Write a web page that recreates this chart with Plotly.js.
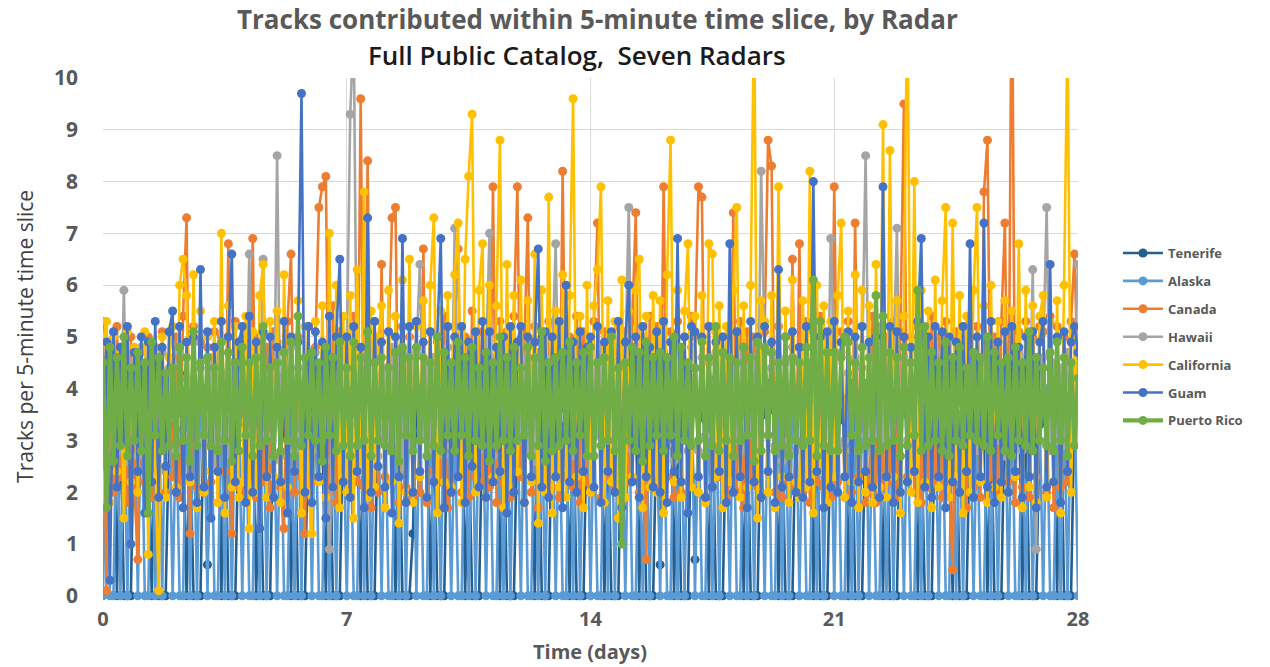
<!DOCTYPE html>
<html>
<head>
<meta charset="utf-8">
<script src="https://cdn.plot.ly/plotly-3.0.1.min.js"></script>
<style>
html,body{margin:0;padding:0;background:#fff;}
#chart{width:1270px;height:667px;}
</style>
</head>
<body>
<div id="chart"></div>
<script>
// Series names (legend order) and colours
const seriesNames = ["Tenerife","Alaska","Canada","Hawaii","California","Guam","Puerto Rico"];
const seriesColors = ["#255E91","#5B9BD5","#ED7D31","#A5A5A5","#FFC000","#4472C4","#70AD47"];
// tick labels
const xTicks = [0,7,14,21,28];
const yTicks = [0,1,2,3,4,5,6,7,8,9,10];
// Sample spacing of the values below: one value every 0.1 day, from day 0 to day 28
const startDay = 0;
const stepDay = 0.1;

// Values read (estimated) from the chart, one row per day
const tenerife = [
3.6,3.9,3.1,4.2,0,3.5,0,0,0,3.8,
3.4,4.0,3.7,2.9,0,4.1,0,0,0,3.3,
3.9,3.2,4.3,3.6,0,3.0,0,0,0,4.0,
0.6,3.7,3.4,4.1,0,3.8,0,0,0,3.5,
3.8,3.3,4.0,3.6,0,3.2,0,0,0,3.9,
3.5,4.2,3.1,3.8,0,3.6,0,0,0,3.4,
3.7,3.4,4.1,3.0,0,3.9,0,0,0,3.6,
4.0,3.5,3.8,3.3,0,4.2,0,0,0,3.7,
3.3,3.9,3.6,4.1,0,3.4,0,0,0,1.2,
3.8,3.1,4.0,3.7,0,3.5,0,0,0,3.9,
3.6,4.1,3.4,3.9,0,3.2,0,0,0,3.5,
3.9,3.3,3.8,4.2,0,3.6,0,0,0,3.4,
3.5,4.0,3.2,3.7,0,4.1,0,0,0,3.8,
3.7,3.6,4.1,3.3,0,3.9,0,0,0,3.6,
3.4,3.8,3.5,4.0,0,3.3,0,0,0,4.1,
3.9,3.2,3.7,3.6,0,4.0,0,0,0,3.5,
0.6,3.9,3.4,4.1,0,3.6,0,0,0,3.8,
0.7,3.5,3.9,3.4,0,3.8,0,0,0,3.6,
3.8,3.4,4.0,3.2,0,3.7,0,0,0,3.9,
3.5,4.1,3.6,3.9,0,3.3,0,0,0,3.7,
3.7,3.3,3.9,4.2,0,3.5,0,0,0,3.4,
4.0,3.6,3.4,3.8,0,4.1,0,0,0,3.6,
3.3,3.9,4.2,3.5,0,3.7,0,0,0,3.8,
3.6,3.5,3.8,4.0,0,3.2,0,0,0,4.0,
3.9,4.0,3.3,3.7,0,3.8,0,0,0,3.5,
3.5,3.7,4.1,3.4,0,3.6,0,0,0,3.9,
3.8,3.2,3.6,4.0,0,3.9,0,0,0,3.3,
3.4,3.9,3.7,3.5,0,4.2,0,0,0,3.7,
3.6];

const alaska = [
0,3.8,0,0,4.1,0,3.5,0,3.9,4.2,
0,4.0,0,0,3.6,0,3.9,0,4.1,3.7,
0,3.5,0,0,4.2,0,3.7,0,3.8,4.0,
0,4.1,0,0,3.8,0,3.4,0,4.0,3.6,
0,3.7,0,0,3.9,0,4.2,0,3.6,3.9,
0,3.9,0,0,3.5,0,4.0,0,3.7,4.1,
0,4.2,0,0,3.7,0,3.6,0,4.1,3.5,
0,3.6,0,0,4.0,0,3.9,0,3.5,3.8,
0,3.8,0,0,3.4,0,4.1,0,3.9,4.2,
0,4.0,0,0,3.9,0,3.5,0,4.2,3.6,
0,3.4,0,0,4.1,0,3.8,0,3.7,4.0,
0,3.9,0,0,3.6,0,4.0,0,3.8,3.7,
0,4.1,0,0,3.8,0,3.6,0,4.0,3.9,
0,3.7,0,0,4.2,0,3.9,0,3.5,4.1,
0,3.5,0,0,3.9,0,4.1,0,3.8,3.6,
0,4.0,0,0,3.7,0,3.5,0,4.1,3.9,
0,3.8,0,0,4.0,0,3.7,0,3.6,4.2,
0,3.6,0,0,3.8,0,4.2,0,3.9,3.5,
0,4.2,0,0,3.5,0,3.8,0,4.0,3.7,
0,3.9,0,0,4.1,0,3.6,0,3.7,4.0,
0,3.7,0,0,3.9,0,4.0,0,4.2,3.8,
0,4.0,0,0,3.6,0,3.9,0,3.5,4.1,
0,3.5,0,0,4.2,0,3.7,0,3.9,3.6,
0,3.8,0,0,3.7,0,4.1,0,3.6,3.9,
0,4.1,0,0,3.9,0,3.5,0,4.0,3.7,
0,3.6,0,0,4.0,0,3.8,0,4.1,4.2,
0,3.9,0,0,3.8,0,4.0,0,3.7,3.5,
0,4.0,0,0,3.5,0,3.9,0,3.8,4.0,
0];

const canada = [
5.3,0.1,4.9,2.0,5.2,2.3,4.8,1.8,5.0,2.1,
0.7,4.7,2.2,5.0,1.9,4.8,2.4,5.1,2.0,4.6,
2.3,5.0,1.9,5.4,7.3,1.2,5.2,2.1,4.9,2.0,
4.8,2.2,5.1,1.8,5.0,2.4,6.8,1.2,5.3,2.1,
2.0,5.2,2.3,6.9,1.9,5.0,2.2,4.8,1.7,5.1,
4.9,2.1,1.3,5.3,6.6,2.0,5.0,2.3,1.2,5.2,
2.2,4.8,7.5,7.9,8.1,2.0,5.6,1.8,5.1,2.3,
5.0,1.9,5.4,2.2,9.6,2.1,8.4,1.7,5.3,2.0,
6.4,2.3,5.1,7.3,7.5,1.8,5.2,2.1,5.0,1.9,
5.3,2.0,6.7,1.8,5.1,2.4,4.9,2.2,5.4,1.7,
2.1,5.2,6.7,2.0,5.0,1.9,5.5,2.3,5.1,2.2,
5.0,2.1,7.9,1.8,5.3,2.2,5.1,1.9,5.4,7.9,
2.3,5.1,7.3,2.0,5.2,1.7,5.0,2.2,5.3,2.1,
5.2,1.9,8.2,2.3,5.0,2.1,5.4,1.8,5.1,2.2,
2.0,5.3,7.2,1.9,5.1,2.3,5.0,2.1,5.2,1.8,
5.1,2.2,5.3,7.4,2.0,5.0,0.7,5.4,2.1,5.2,
2.1,7.9,2.3,5.1,1.9,5.3,2.0,5.0,2.2,5.4,
5.0,7.9,7.7,1.8,5.2,2.1,5.1,2.3,5.0,1.9,
2.2,7.4,2.0,5.3,1.7,5.1,2.3,5.0,2.1,5.2,
5.1,8.8,8.3,2.0,5.2,1.9,5.0,2.2,6.5,2.1,
6.8,2.0,5.3,1.8,5.1,2.2,5.4,2.1,5.0,1.9,
7.9,2.2,5.1,1.9,5.3,2.0,7.2,2.3,5.2,1.8,
2.0,5.4,1.8,5.2,2.1,5.0,2.2,5.3,1.9,5.1,
9.5,2.3,5.0,2.0,5.2,1.8,5.1,2.1,5.4,2.2,
5.0,1.9,5.3,2.2,0.5,5.1,2.0,5.2,1.7,5.0,
2.1,5.2,1.9,7.8,8.8,2.3,5.0,2.0,5.3,7.2,
2.2,13.0,1.8,5.1,2.1,5.3,1.9,5.0,2.3,5.2,
5.1,2.0,5.4,1.7,5.2,2.1,5.0,2.2,5.3,6.6,
4.0];

const hawaii = [
4.2,2.5,4.6,3.0,4.4,2.8,5.9,2.6,4.5,3.1,
2.7,4.8,2.9,4.3,3.2,4.6,2.4,4.7,3.0,4.4,
4.5,2.8,4.7,3.1,4.2,2.6,4.9,2.9,4.4,3.0,
2.9,4.6,2.5,4.8,3.0,4.3,2.7,4.5,3.2,4.7,
4.4,3.0,6.6,2.8,4.6,2.9,6.5,3.1,4.3,2.6,
8.5,2.7,4.5,3.0,4.8,2.8,4.4,3.1,4.6,2.5,
2.8,4.7,3.0,4.5,2.6,0.9,4.6,2.9,4.4,3.2,
4.6,9.3,11.0,3.0,4.7,2.8,4.5,3.1,4.3,2.7,
3.1,4.4,2.8,4.8,3.0,4.6,2.5,4.7,2.9,4.5,
4.7,6.4,3.1,4.4,2.8,4.6,3.0,4.3,2.7,4.8,
2.9,7.1,3.0,4.7,2.6,4.5,3.2,4.4,2.8,4.6,
4.5,7.0,2.7,4.6,3.1,4.4,2.9,4.8,3.0,4.3,
3.0,4.6,2.8,4.5,2.6,4.7,3.1,4.4,2.9,4.6,
6.8,2.9,4.7,3.0,4.3,2.7,4.5,3.2,4.6,2.8,
2.7,4.5,3.1,4.8,2.9,4.4,3.0,4.6,2.6,4.7,
4.6,7.5,2.8,4.3,3.0,4.5,2.7,4.7,3.1,4.4,
3.0,4.7,2.9,4.4,2.6,4.6,3.2,4.5,2.8,4.8,
4.4,2.8,4.6,3.1,4.5,2.9,4.7,3.0,4.3,2.7,
2.9,4.5,3.0,4.7,2.8,4.4,3.1,4.6,2.7,8.2,
4.7,3.1,4.4,2.9,4.6,2.6,4.5,3.0,4.8,2.8,
3.0,4.6,2.7,4.5,3.2,4.4,2.9,4.7,3.1,6.9,
4.5,2.9,4.7,3.0,4.3,2.8,4.6,3.1,4.4,8.5,
2.8,4.4,3.1,4.6,2.9,4.8,3.0,4.5,7.1,2.7,
4.6,3.0,4.5,2.8,4.7,3.1,4.4,2.9,4.6,3.0,
3.1,4.7,2.9,4.4,3.0,4.5,2.6,4.8,2.8,4.6,
4.4,2.8,4.6,3.1,4.5,2.9,4.7,3.0,4.3,2.7,
2.9,4.5,3.0,4.7,2.8,4.6,3.1,6.3,0.9,4.4,
4.6,7.5,2.8,4.5,3.0,4.4,2.9,4.7,3.1,4.5,
6.4];

const california = [
4.9,5.3,1.8,5.0,2.4,4.7,1.5,5.1,2.2,4.8,
2.0,5.0,5.1,0.8,4.9,2.3,0.1,5.0,1.9,4.6,
5.2,2.1,6.0,6.5,5.8,2.2,6.2,1.7,5.5,2.0,
5.0,2.4,5.3,1.8,7.0,1.6,5.6,2.1,5.2,1.9,
2.2,5.4,1.3,5.1,2.0,5.8,6.4,1.9,5.3,2.3,
5.5,1.8,6.2,2.1,5.0,2.4,5.7,1.6,5.2,2.0,
1.2,5.3,2.2,5.6,1.9,7.0,2.1,6.0,1.7,5.4,
2.0,5.8,1.5,6.3,2.4,7.8,1.9,5.5,2.1,5.0,
5.6,1.7,5.9,2.2,5.4,1.4,6.1,2.0,6.5,1.8,
5.2,2.3,5.7,1.9,6.0,7.3,1.6,5.5,2.2,5.8,
2.1,6.2,7.2,1.8,6.5,8.1,9.3,2.0,5.9,6.8,
1.9,6.0,2.3,5.6,8.8,1.7,6.4,2.1,5.8,2.4,
6.1,1.8,5.7,2.2,6.6,1.4,5.9,2.0,7.7,1.6,
5.5,2.1,6.2,1.9,5.8,9.6,2.3,5.4,1.7,6.0,
2.0,5.6,6.3,7.9,1.8,5.7,2.2,5.3,1.5,6.1,
1.9,5.5,2.3,5.9,6.5,1.7,5.4,2.1,5.8,2.0,
5.7,1.6,6.2,8.8,2.2,5.9,1.9,5.5,6.8,2.1,
5.4,2.0,5.8,1.8,6.8,6.6,2.3,5.6,1.7,5.2,
2.2,5.9,7.5,1.9,5.6,2.1,6.0,11.5,1.5,5.7,
5.3,2.0,5.8,1.7,7.9,2.3,5.5,1.8,6.1,2.2,
1.9,5.7,2.1,8.2,1.6,6.0,2.4,5.6,1.8,5.3,
2.3,5.8,7.2,1.9,5.5,2.2,6.2,1.7,5.9,2.0,
5.6,1.8,6.4,2.1,9.1,1.9,8.6,2.3,5.7,1.6,
5.4,12.0,2.0,8.0,1.8,5.9,2.2,5.5,1.7,6.1,
2.1,5.7,7.5,1.9,7.2,2.3,5.8,1.6,5.4,2.0,
5.9,7.5,2.2,5.6,1.8,6.0,2.1,5.3,1.9,5.7,
2.0,5.5,2.3,6.8,1.7,5.9,2.1,5.6,1.8,5.4,
5.8,1.9,5.3,2.2,5.7,1.6,6.0,11.0,2.0,5.2,
3.0];

const guam = [
3.2,4.9,0.3,5.1,2.1,4.8,3.0,5.2,1.0,4.7,
2.4,5.0,1.6,4.9,2.2,5.3,1.9,4.8,2.5,5.1,
5.5,2.0,5.2,1.7,4.9,2.3,5.0,1.8,6.3,2.1,
5.1,1.5,4.8,2.4,5.3,1.9,5.0,6.6,2.2,4.9,
5.2,1.8,5.4,2.0,4.9,1.3,5.1,2.3,5.0,1.9,
4.8,2.2,5.3,1.6,5.0,2.4,4.9,9.7,2.0,5.2,
1.8,5.1,2.3,4.9,1.5,5.4,2.1,5.0,6.5,2.2,
5.0,1.9,5.2,2.4,4.8,1.7,7.3,2.0,5.3,2.5,
4.9,2.1,5.1,1.6,5.0,2.3,6.9,1.8,5.2,2.0,
5.3,2.4,4.9,1.9,5.1,2.2,5.0,6.9,1.7,5.2,
2.0,5.0,2.3,5.2,1.8,4.9,2.5,5.1,2.1,5.3,
1.9,5.1,2.2,4.8,2.4,5.0,1.6,5.2,2.0,4.9,
5.2,1.8,5.0,2.3,4.9,6.7,2.1,5.1,1.9,5.0,
2.3,5.3,1.7,6.0,2.2,4.9,2.0,5.1,2.4,4.8,
5.0,2.1,5.2,1.8,4.9,2.4,5.1,2.0,5.3,1.7,
4.9,6.0,2.2,5.0,1.9,5.2,2.3,4.8,2.1,5.1,
2.0,5.3,1.8,4.9,2.4,6.9,2.2,5.0,1.6,5.2,
5.1,2.3,5.0,1.9,5.2,2.1,4.9,2.4,5.0,1.8,
6.8,2.0,5.1,2.3,4.8,1.7,5.3,2.2,5.0,1.9,
5.2,2.4,4.9,1.8,6.3,2.1,5.0,2.3,5.1,2.0,
4.8,1.9,5.2,2.2,8.0,2.4,5.0,1.7,5.1,2.1,
5.3,2.0,4.9,2.3,5.1,1.8,5.0,2.2,5.2,2.4,
4.9,2.1,5.0,1.9,7.9,2.3,5.2,1.8,5.1,2.0,
5.0,2.2,4.8,2.4,5.3,6.9,2.1,5.0,1.9,5.2,
2.3,5.1,1.7,5.0,2.2,4.9,2.0,5.2,2.4,6.8,
1.9,5.0,2.3,7.2,2.1,5.3,1.8,4.9,2.2,5.1,
2.0,5.2,2.4,4.8,1.9,5.0,2.3,5.1,1.7,4.9,
5.3,2.1,6.4,2.2,5.0,1.8,5.1,2.4,4.9,5.2,
4.7];

const puertoRico = [
4.5,1.7,4.8,2.6,4.6,2.9,5.0,2.7,4.4,3.0,
4.7,2.8,4.5,1.6,4.9,3.1,4.6,2.8,4.3,2.9,
4.4,2.7,4.8,3.0,4.6,2.6,5.1,2.9,4.5,3.1,
4.6,2.9,4.4,2.8,4.9,3.0,4.7,2.6,4.5,2.8,
4.8,3.1,4.5,2.7,4.6,2.9,5.2,3.0,4.4,2.7,
4.5,2.8,4.7,3.0,4.9,2.7,5.4,2.9,4.6,3.1,
4.7,3.0,4.5,2.6,4.8,3.1,4.6,2.8,4.9,2.9,
4.4,2.7,4.9,2.9,4.6,3.0,5.1,2.7,4.5,3.0,
4.6,2.9,4.4,2.8,4.7,2.6,4.8,3.1,4.6,2.8,
4.8,3.0,4.6,2.7,4.5,2.9,5.0,2.8,4.7,3.1,
4.5,2.8,4.9,3.1,4.6,2.7,4.8,3.0,4.4,2.9,
4.7,2.6,4.5,2.9,5.0,3.0,4.6,2.8,4.8,3.0,
4.4,3.1,4.8,2.7,4.6,2.9,5.1,2.6,4.5,2.8,
4.6,2.9,4.7,3.0,4.9,2.8,4.5,3.1,4.7,2.7,
4.8,2.7,4.5,2.9,4.6,3.0,5.0,2.8,4.4,1.0,
4.5,3.0,4.8,2.8,4.7,2.6,4.9,2.9,4.6,3.1,
4.7,2.8,4.6,3.1,5.0,2.7,4.8,3.0,4.5,2.9,
4.4,3.0,4.9,2.7,4.6,2.9,5.2,2.8,4.7,3.0,
4.6,2.7,4.5,3.0,4.8,3.1,4.6,2.6,4.9,2.8,
4.8,3.1,4.7,2.8,4.5,2.9,5.0,2.7,4.6,3.0,
4.5,2.9,4.8,3.0,6.1,2.7,5.3,2.9,4.7,2.8,
4.7,2.8,4.6,5.0,4.9,3.1,4.5,2.8,4.8,2.9,
4.6,3.0,5.8,2.8,5.4,2.9,4.7,3.0,4.6,2.7,
4.8,2.9,4.5,3.1,5.9,2.8,5.2,2.9,4.7,3.0,
4.5,2.8,4.9,2.7,4.6,3.0,4.8,2.9,4.4,3.1,
4.7,3.0,4.6,2.9,5.0,2.8,4.7,3.1,4.5,2.8,
4.6,2.7,4.8,3.0,4.5,2.9,5.1,2.8,4.6,3.0,
4.4,2.9,4.7,2.8,4.9,3.0,4.6,2.7,4.5,2.9,
4.2];

const seriesValues = [tenerife, alaska, canada, hawaii, california, guam, puertoRico];

const labelFont = "Open Sans, Liberation Sans, Arial, sans-serif";

const traces = seriesNames.map((name, i) => ({
  type: "scatter",
  mode: "lines+markers",
  name: name,
  legendgroup: "g" + i,
  x0: startDay,
  dx: stepDay,
  y: seriesValues[i],
  line: {color: seriesColors[i], width: i === 6 ? 4.2 : 2.6},
  marker: {color: seriesColors[i], size: 9, symbol: "circle"},
  hoverinfo: "x+y+name"
}));

const layout = {
  width: 1270,
  height: 667,
  margin: {l: 103, r: 192, t: 78, b: 66},
  paper_bgcolor: "#ffffff",
  plot_bgcolor: "#ffffff",
  showlegend: true,
  legend: {
    x: 1.041, xanchor: "left",
    y: 0.694, yanchor: "top",
    traceorder: "grouped",
    tracegroupgap: 8,
    itemwidth: 40,
    font: {family: labelFont, size: 13, color: "#595959", weight: "bold"},
    bgcolor: "rgba(0,0,0,0)"
  },
  xaxis: {
    range: [0, 28],
    tickmode: "array",
    tickvals: xTicks,
    ticktext: xTicks.map(String),
    showgrid: true,
    gridcolor: "#d9d9d9",
    gridwidth: 1,
    zeroline: false,
    showline: false,
    ticks: "",
    ticklabelstandoff: 4,
    tickfont: {family: labelFont, size: 20, color: "#595959", weight: "bold"}
  },
  yaxis: {
    range: [-0.1, 10],
    tickmode: "array",
    tickvals: yTicks,
    ticktext: yTicks.map(String),
    showgrid: true,
    gridcolor: "#d9d9d9",
    gridwidth: 1,
    zeroline: false,
    showline: false,
    ticks: "",
    ticklabelstandoff: 24,
    tickfont: {family: labelFont, size: 21, color: "#595959", weight: "bold"}
  },
  annotations: [
    {text: "<b>Tracks contributed within 5-minute time slice, by Radar</b>",
     xref: "paper", yref: "paper", x: 0.507, y: 1.113, xanchor: "center", yanchor: "middle",
     showarrow: false, font: {family: labelFont, size: 26, color: "#595959"}},
    {text: "Full Public Catalog,  Seven Radars",
     xref: "paper", yref: "paper", x: 0.486, y: 1.044, xanchor: "center", yanchor: "middle",
     showarrow: false, font: {family: labelFont, size: 26, color: "#1a1a1a", weight: 600}},
    {text: "Tracks per 5-minute time slice",
     xref: "paper", yref: "paper", x: -0.08, y: 0.505, xanchor: "center", yanchor: "middle",
     textangle: -90, showarrow: false, font: {family: labelFont, size: 21, color: "#404040"}},
    {text: "<b>Time (days)</b>",
     xref: "paper", yref: "paper", x: 0.499, y: -0.097, xanchor: "center", yanchor: "middle",
     showarrow: false, font: {family: labelFont, size: 20, color: "#595959"}}
  ]
};

Plotly.newPlot("chart", traces, layout, {displayModeBar: false, responsive: false});
</script>
</body>
</html>
